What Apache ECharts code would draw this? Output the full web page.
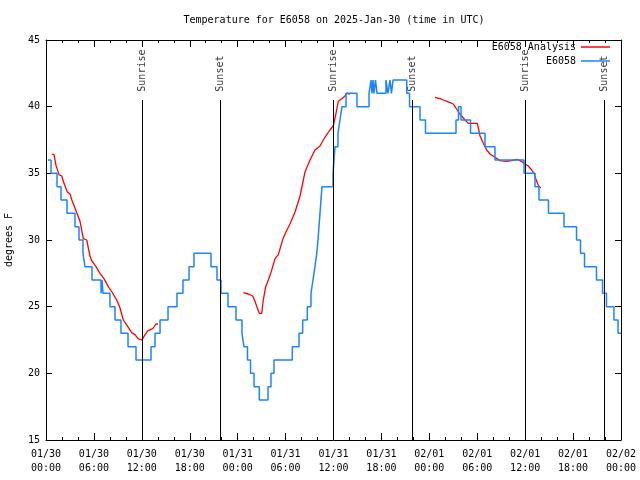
<!DOCTYPE html>
<html><head><meta charset="utf-8">
<script src="https://cdn.jsdelivr.net/npm/echarts@6/dist/echarts.min.js"></script>
<style>html,body{margin:0;padding:0;background:#fff}#c{width:640px;height:480px}</style>
</head><body><div id="c"></div>
<script>
// hours since 2025-01-30 00:00 UTC
const obsHours = [0.25,0.63,1.38,1.88,2.63,3.63,4.13,4.63,4.88,5.76,6.89,7.01,7.14,8.01,8.64,9.39,10.27,11.27,
  13.15,13.65,14.28,15.28,16.40,17.15,17.91,18.53,20.66,21.41,21.91,22.79,23.79,24.54,24.79,25.23,25.61,26.05,26.71,
  27.80,28.17,28.55,30.84,31.68,32.14,32.72,33.18,33.43,33.68,33.90,34.06,34.18,34.31,34.43,34.56,35.94,36.06,36.19,
  36.56,36.81,37.06,37.57,38.94,40.45,40.70,40.82,40.95,41.07,41.26,41.45,42.57,42.82,43.07,43.26,43.45,45.17,45.52,
  46.83,47.52,51.34,51.65,51.97,53.16,54.97,56.22,59.86,61.23,61.73,62.92,64.86,66.43,66.93,67.43,68.93,69.69,70.18,
  71.12,71.63,72.0];
const obsTemps = [36,35,34,33,32,31,30,29,28,27,26,27,26,25,24,23,22,21,
  22,23,24,25,26,27,28,29,28,27,26,25,24,23,22,21,20,19,18,
  19,20,21,22,23,24,25,26,27,28,29,30,31,32,33,34,35,36,37,
  38,39,40,41,40,41,42,41,42,41,42,41,42,41,42,41,42,41,40,
  39,38,39,40,39,38,37,36,35,34,33,32,31,30,29,28,27,26,25,
  24,23,23];
// null marks a gap in the analysis
const anaHours = [0.71,1.00,1.25,1.63,1.97,2.25,2.67,3.01,3.29,3.76,3.97,4.26,4.67,5.10,5.30,5.51,5.72,6.26,6.76,7.26,
  7.80,8.26,8.85,9.27,9.68,10.14,10.73,11.14,11.52,11.77,12.02,12.40,12.77,13.15,13.44,13.77,14.02,
  null,
  24.71,25.33,25.88,26.17,26.46,26.71,27.01,27.21,27.51,27.84,28.14,28.68,29.09,29.43,29.68,30.05,30.55,31.18,31.81,
  32.43,33.06,33.68,34.31,34.72,35.15,35.56,35.97,36.31,36.60,37.03,37.44,37.65,38.07,
  null,
  48.71,49.34,49.75,50.59,51.00,51.21,51.50,51.75,52.05,52.47,52.88,54.01,54.35,54.76,55.19,55.60,56.22,56.85,57.69,
  58.31,58.94,59.35,59.77,59.98,60.39,60.82,61.11,61.44,61.64,61.95];
const anaTemps = [36.45,36.4,35.6,34.9,34.8,34.25,33.6,33.45,32.9,32.2,32.05,31.4,30.1,30.0,29.4,28.8,28.45,28.0,27.5,27.1,
  26.5,26.1,25.5,24.9,24.0,23.6,23.05,22.9,22.6,22.5,22.5,22.9,23.2,23.3,23.4,23.7,23.7,
  null,
  26.05,25.95,25.8,25.4,24.9,24.5,24.5,25.5,26.5,27.0,27.5,28.6,28.9,29.6,30.1,30.6,31.2,32.1,33.3,
  35.1,36.0,36.75,37.05,37.5,37.9,38.25,38.55,39.5,40.4,40.6,40.8,41.0,40.95,
  null,
  40.7,40.6,40.5,40.3,40.2,40.0,39.75,39.5,39.3,39.0,38.75,38.75,37.8,37.25,36.75,36.45,36.2,35.95,35.9,
  35.95,36.05,35.95,35.8,35.75,35.55,35.25,35.0,34.4,34.1,33.9];
const eventHours = [12.02,21.79,35.94,45.83,59.98,69.87];
const eventNames = ['Sunrise','Sunset','Sunrise','Sunset','Sunrise','Sunset'];
const eventLineTop = 40.5;
const eventLabelBase = 41.05;
const xTickLabels = ['01/30\n00:00','01/30\n06:00','01/30\n12:00','01/30\n18:00','01/31\n00:00','01/31\n06:00',
  '01/31\n12:00','01/31\n18:00','02/01\n00:00','02/01\n06:00','02/01\n12:00','02/01\n18:00','02/02\n00:00'];
const yTicks = {min:15, max:45, step:5};
const xRange = {min:0, max:72, step:6};

const FONT = 'DejaVu Sans Mono';
const obsData = obsHours.map((h,i)=>[h, obsTemps[i]]);
const anaData = anaHours.map((h,i)=> h===null ? [null,'-'] : [h, anaTemps[i]]);

const chart = echarts.init(document.getElementById('c'), null, {renderer:'canvas'});
const baseX = {
  type:'value', min:xRange.min, max:xRange.max, interval:xRange.step,
  axisLine:{show:true, onZero:false, lineStyle:{color:'#000', width:1}},
  axisTick:{show:true, inside:true, length:7, lineStyle:{color:'#000'}},
  minorTick:{show:true, splitNumber:3, length:3, lineStyle:{color:'#000'}},
  splitLine:{show:false}, minorSplitLine:{show:false}
};
const baseY = {
  type:'value', min:yTicks.min, max:yTicks.max, interval:yTicks.step,
  axisLine:{show:true, onZero:false, lineStyle:{color:'#000', width:1}},
  axisTick:{show:true, inside:true, length:6, lineStyle:{color:'#000'}},
  splitLine:{show:false}
};
chart.setOption({
  animation:false,
  backgroundColor:'#fff',
  title:{text:'Temperature for E6058 on 2025-Jan-30 (time in UTC)', left:329, top:10, textAlign:'center',
    textStyle:{fontFamily:FONT, fontSize:10, fontWeight:'normal', color:'#000'}},
  grid:{left:46, right:19, top:40, bottom:40, containLabel:false, outerBoundsMode:'none'},
  legend:[
    {data:['E6058 Analysis'], right:30, top:42, padding:0, align:'right', icon:'rect', itemWidth:29, itemHeight:1.5,
      textStyle:{fontFamily:FONT, fontSize:10, color:'#000'}},
    {data:['E6058'], right:30, top:56, padding:0, align:'right', icon:'rect', itemWidth:29, itemHeight:1.5,
      textStyle:{fontFamily:FONT, fontSize:10, color:'#000'}}
  ],
  xAxis:[
    Object.assign({}, baseX, {position:'bottom',
      axisLabel:{show:true, margin:7, fontFamily:FONT, fontSize:10, color:'#000', lineHeight:14,
        formatter:(v)=>xTickLabels[Math.round(v/xRange.step)] || ''}}),
    Object.assign({}, baseX, {position:'top', axisLabel:{show:false}})
  ],
  yAxis:[
    Object.assign({}, baseY, {position:'left', name:'degrees F', nameLocation:'middle', nameRotate:90, nameGap:32,
      nameTextStyle:{fontFamily:FONT, fontSize:10, color:'#000'},
      axisLabel:{show:true, margin:6, fontFamily:FONT, fontSize:10, color:'#000'}}),
    Object.assign({}, baseY, {position:'right', axisLabel:{show:false}})
  ],
  series:[
    {type:'scatter', name:'events', xAxisIndex:0, yAxisIndex:0, silent:true, symbolSize:0,
      data:eventHours.map((h,i)=>({value:[h, eventLabelBase], name:eventNames[i]})),
      label:{show:true, position:[0,0], rotate:90, align:'left', verticalAlign:'middle',
        formatter:(p)=>p.name, fontFamily:FONT, fontSize:10, color:'#000', offset:[1,0]},
      markLine:{silent:true, symbol:['none','none'], label:{show:false},
        lineStyle:{color:'#000', width:1, type:'solid'},
        data:eventHours.map(h=>[{coord:[h, yTicks.min]},{coord:[h, eventLineTop]}])}
    },
    {type:'line', name:'E6058 Analysis', data:anaData, showSymbol:false, connectNulls:false,
      color:'#ff0000', lineStyle:{color:'#ff0000', width:1.3}, z:3},
    {type:'line', name:'E6058', data:obsData, step:'end', showSymbol:false,
      color:'#1a85ff', lineStyle:{color:'#1a85ff', width:1.5}, z:4}
  ]
});
</script>
</body></html>
